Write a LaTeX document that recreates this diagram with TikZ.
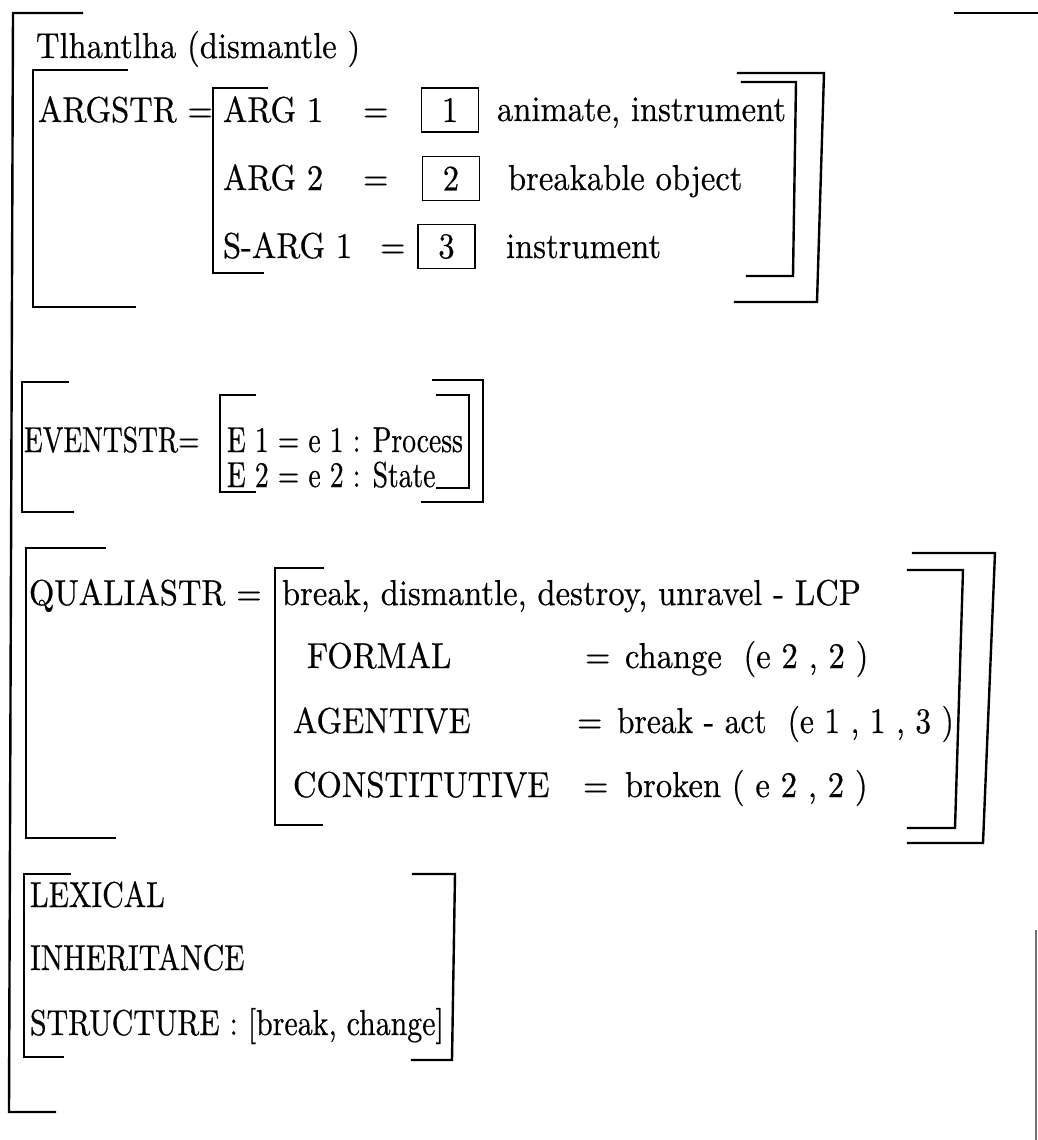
\documentclass[tikz,border=0pt]{standalone}
\usepackage{fontspec}
\setmainfont{lmroman10-regular}[Extension=.otf, FakeStretch=0.905, FakeBold=0.5]
\newfontfamily\evfont{lmroman10-regular}[Extension=.otf, FakeStretch=0.765, FakeBold=0.5]
\newfontfamily\lexfont{lmroman10-regular}[Extension=.otf, FakeStretch=0.83, FakeBold=0.5]
\newfontfamily\tightfont{lmroman10-regular}[Extension=.otf, FakeStretch=0.875, FakeBold=0.5]
\begin{document}
\begin{tikzpicture}[x=1pt,y=-1pt,
  txt/.style={anchor=base west, inner sep=0pt, outer sep=0pt, font=\fontsize{36}{40}\selectfont},
  evtxt/.style={txt, font=\fontsize{36}{40}\evfont},
  lextxt/.style={txt, font=\fontsize{36}{40}\lexfont},
  tighttxt/.style={txt, font=\fontsize{36}{40}\tightfont},
  numbox/.style={draw, line width=1.3pt, inner sep=0pt, minimum width=57pt, minimum height=44pt, font=\fontsize{36}{40}\selectfont},
  brk/.style={line width=2.4pt, line join=miter, line cap=rect}]
\useasboundingbox (0,0) rectangle (1038,1140);
\fill[white] (0,0) rectangle (1038,1140);

% outermost bracket
\draw[brk] (82,13) -- (13,13) -- (9,1112) -- (55,1112);
\draw[brk] (955,13) -- (1038,13);
\draw[line width=1.6pt, black!55] (1036,930) -- (1036,1140);

% entry head
\node[txt] (title) at (36,58) {Tlhantlha (dismantle )};

% argument structure
\draw[brk] (127,70) -- (33,70) -- (33,307) -- (135,307);
\draw[brk] (267,88) -- (213,88) -- (213,273) -- (263,273);
\draw[brk] (742,82) -- (796,82) -- (793,276) -- (747,276);
\draw[brk] (738,73) -- (824,73) -- (817,302) -- (735,302);
\node[txt] (argstr) at (38,122) {ARGSTR =};
\node[txt] (arg1) at (223,122) {ARG 1};
\node[txt] (eq1) at (363,122) {=};
\node[numbox] (box1) at (450,110) {1};
\node[txt] (val1) at (497,121) {animate, instrument};
\node[txt] (arg2) at (223,190) {ARG 2};
\node[txt] (eq2) at (363,190) {=};
\node[numbox] (box2) at (451,178.5) {2};
\node[txt] (val2) at (508,190) {breakable object};
\node[txt] (sarg1) at (223,258) {S-ARG 1};
\node[txt] (eq3) at (380,258) {=};
\node[numbox] (box3) at (446.5,246.5) {3};
\node[txt] (val3) at (506,258) {instrument};

% event structure
\draw[brk] (68,382) -- (22,382) -- (22,512) -- (73,512);
\draw[brk] (255,395) -- (220,395) -- (220,492) -- (255,492);
\draw[brk] (437,395) -- (469,395) -- (469,488) -- (437,488);
\draw[brk] (433,380) -- (483,380) -- (483,502) -- (422,502);
\node[evtxt] (evstr) at (24,452) {EVENTSTR=};
\node[evtxt] (ev1) at (227,452) {E 1 = e 1 : Process};
\node[evtxt] (ev2) at (227,487) {E 2 = e 2 : State};

% qualia structure
\draw[brk] (105,548) -- (26,548) -- (26,838) -- (115,838);
\draw[brk] (323,568) -- (275,568) -- (275,825) -- (322,825);
\draw[brk] (908,570) -- (963,570) -- (955,828) -- (908,828);
\draw[brk] (913,553) -- (995,553) -- (983,843) -- (908,843);
\node[txt] (qstr) at (29,605) {QUALIASTR =};
\node[txt] (lcp) at (282,605) {break, dismantle, destroy, unravel - LCP};
\node[txt] (formal) at (307,668) {FORMAL};
\node[txt] (eqf) at (585,668) {=};
\node[txt] (valf) at (625,668) {change~ (e 2 , 2 )};
\node[txt] (agent) at (293,733) {AGENTIVE};
\node[txt] (eqa) at (577,733) {=};
\node[tighttxt] (vala) at (617,733) {break - act~ (e 1 , 1 , 3 )};
\node[txt] (const) at (293,797) {CONSTITUTIVE};
\node[txt] (eqc) at (583,797) {=};
\node[txt] (valc) at (625,797) {broken ( e 2 , 2 )};

% lexical inheritance structure
\draw[brk] (70,874) -- (24,874) -- (24,1057) -- (63,1057);
\draw[brk] (413,874) -- (455,874) -- (452,1060) -- (412,1060);
\node[lextxt] (lex1) at (30,907) {LEXICAL};
\node[lextxt] (lex2) at (30,970) {INHERITANCE};
\node[lextxt] (lex3) at (30,1035) {STRUCTURE : [break, change]};
\end{tikzpicture}
\end{document}
